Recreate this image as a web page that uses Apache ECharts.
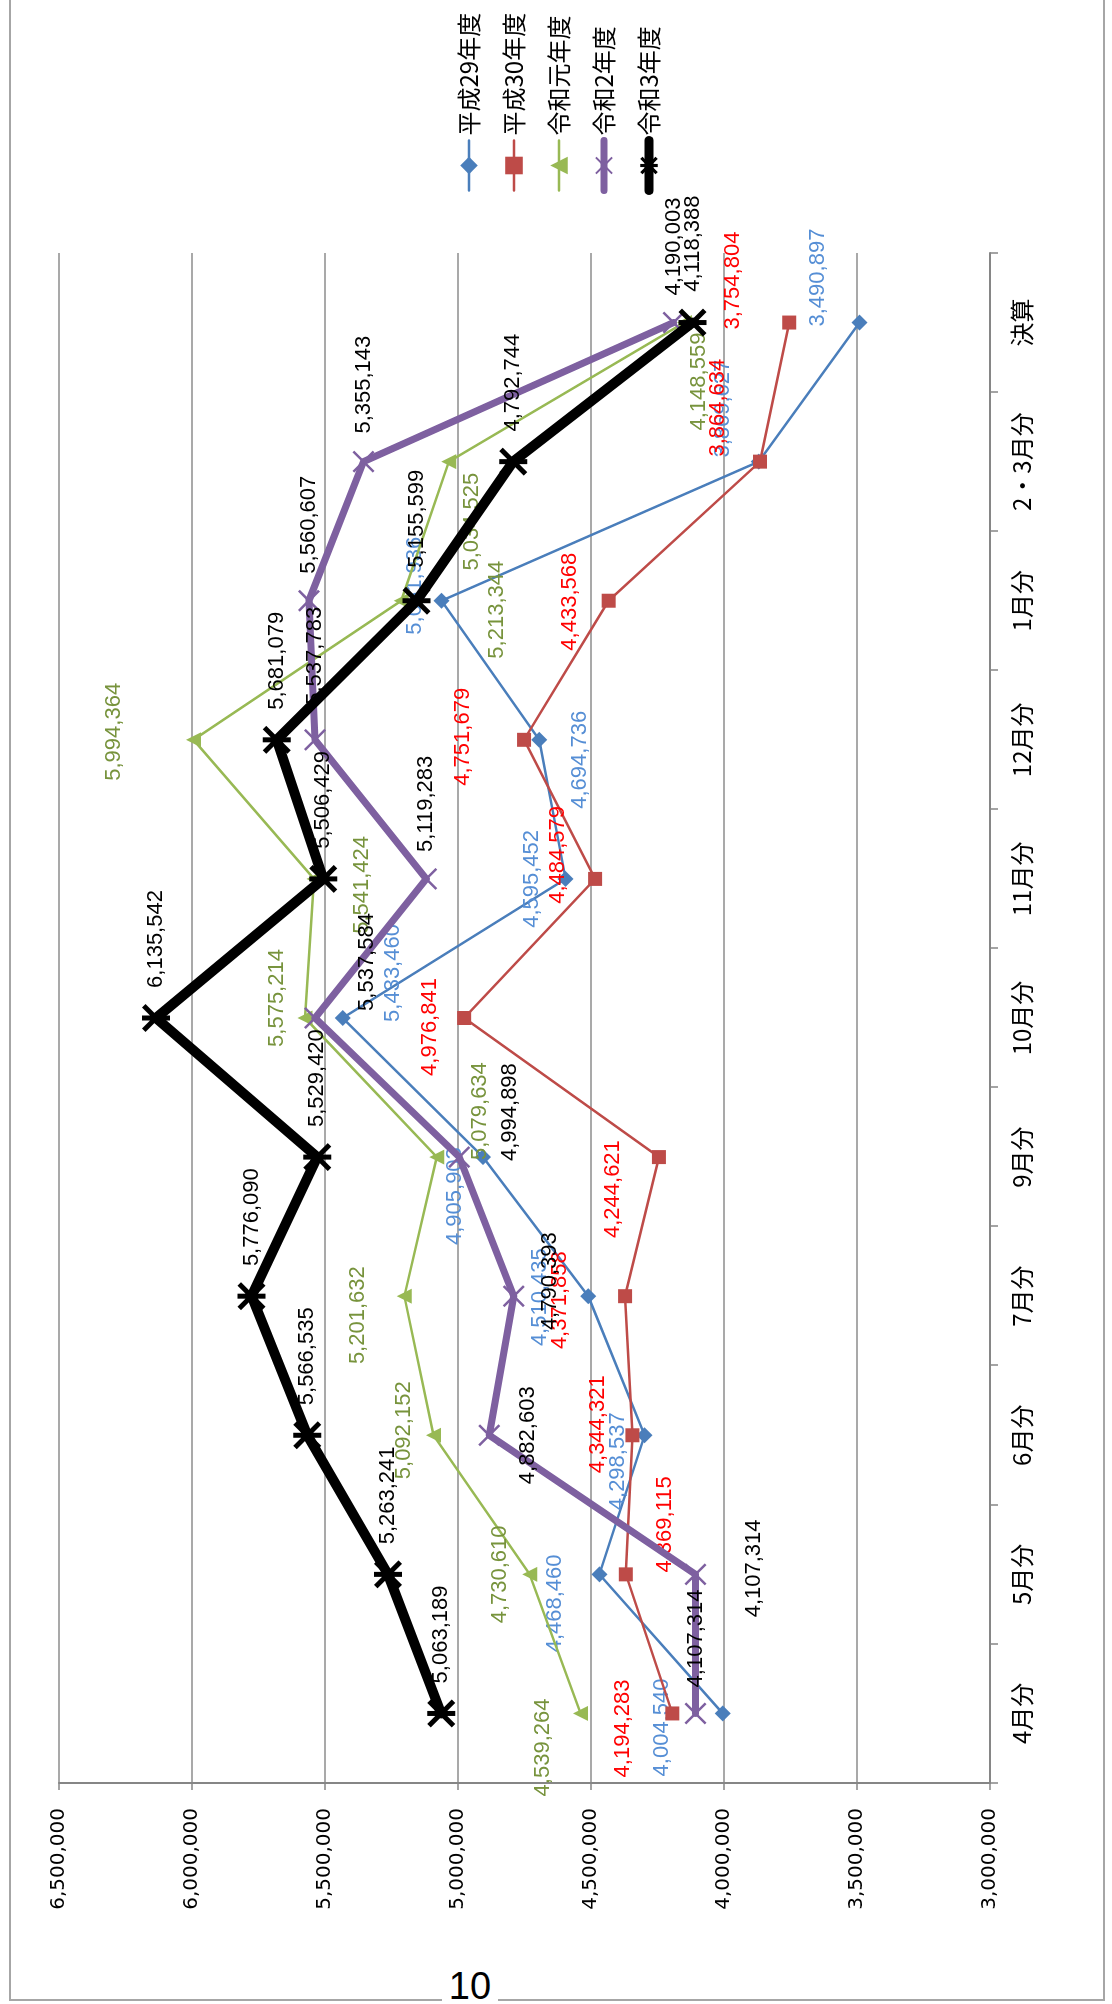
<!DOCTYPE html>
<html>
<head>
<meta charset="utf-8">
<script src="https://cdn.jsdelivr.net/npm/echarts@6/dist/echarts.min.js"></script>
<style>
  html, body { margin: 0; padding: 0; width: 1112px; height: 2004px; overflow: hidden; background: #fff; }
  /* page frame and page number (upright) */
  #frame { position: absolute; left: 9px; top: -10px; width: 1096px; height: 2011px; border: 2px solid #a6a6a6; box-sizing: border-box; }
  #pageNo { position: absolute; left: 442px; width: 56px; top: 1966px; height: 40px; background: #fff; text-align: center;
            font: 38px/40px "Liberation Sans Narrow", "Liberation Sans", sans-serif; color: #000; }
  /* the chart is drawn landscape and turned 90deg counter-clockwise */
  #chart { position: absolute; left: 0; top: 0; width: 2004px; height: 1112px;
           transform-origin: 0 0; transform: translate(0px, 2004px) rotate(-90deg); }
</style>
</head>
<body>
<div id="frame"></div>
<div id="pageNo">10</div>
<div id="chart"></div>
<script>
// 区分
const categories = ['4月分', '5月分', '6月分', '7月分', '9月分', '10月分', '11月分', '12月分', '1月分', '2・3月分', '決算'];

// 縦軸
const axisMin = 3000000;
const axisMax = 6500000;
const axisStep = 500000;

// 各年度の値
const seriesNames = ['平成29年度', '平成30年度', '令和元年度', '令和2年度', '令和3年度'];
const h29 = [4004540, 4468460, 4298537, 4510435, 4905903, 5433460, 4595452, 4694736, 5061936, 3869627, 3490897];
const h30 = [4194283, 4369115, 4344321, 4371858, 4244621, 4976841, 4484579, 4751679, 4433568, 3864634, 3754804];
const r1 = [4539264, 4730610, 5092152, 5201632, 5079634, 5575214, 5541424, 5994364, 5213344, 5034525, 4148559];
const r2 = [4107314, 4107314, 4882603, 4790393, 4994898, 5537584, 5119283, 5537783, 5560607, 5355143, 4190003];
const r3 = [5063189, 5263241, 5566535, 5776090, 5529420, 6135542, 5506429, 5681079, 5155599, 4792744, 4118388];

// ラベルのずらし量 (点からの相対位置 px)
const nudgeH29 = [[-14, -61], [-29, -44], [-26, -27], [-1, -48], [-39, -28], [45, 50], [0, -34], [-20, 41], [15, -27], [53, -36], [45, -41]];
const nudgeH30 = [[-15, -49], [50, 39], [11, -34], [-4, -65], [-32, -46], [-9, -34], [24, -37], [3, -61], [-1, -39], [54, -42], [42, -56]];
const nudgeR1 = [[-34, -38], [0, -30], [5, -30], [-19, -46], [46, 43], [20, -28], [-6, 48], [8, -80], [-9, 96], [-60, 23], [-59, 14]];
const nudgeR2 = [[75, 0], [6, 58], [0, 39], [15, 36], [45, 51], [56, 52], [75, 0], [84, 0], [76, 0], [77, 0], [76, 0]];
const nudgeR3 = [[79, 0], [79, 0], [79, 0], [79, 0], [79, 0], [79, 0], [79, 0], [79, 0], [82, 0], [79, 0], [79, 0]];

function fmt(v) {
    return String(v).replace(/\B(?=(\d{3})+(?!\d))/g, ',');
}

// マーカー: ×印と＊印
const crossPath = 'path://M0,1.6L1.6,0L10,8.4L18.4,0L20,1.6L11.6,10L20,18.4L18.4,20L10,11.6L1.6,20L0,18.4L8.4,10Z';
const starPath = 'path://M0,3.5L3.5,0L28,24.5L24.5,28Z M24.5,0L28,3.5L3.5,28L0,24.5Z M11.5,0L16.5,0L16.5,28L11.5,28Z';

const styles = [
    { z: 2, symbol: 'diamond', size: 16, color: '#4a7ebb', width: 2.5, labelColor: '#558ed5' },
    { z: 3, symbol: 'rect', size: 14, color: '#be4b48', width: 2.5, labelColor: '#ff0000' },
    { z: 4, symbol: 'triangle', size: 15, color: '#98b954', width: 2.5, labelColor: '#77933c' },
    { z: 5, symbol: crossPath, size: 22, color: '#7e60a0', width: 7, labelColor: '#000' },
    { z: 6, symbol: starPath, size: 28, color: '#000', width: 10, labelColor: '#000' },
];

function lineSeries(name, values, nudge, s) {
    return {
        name: name,
        type: 'line',
        z: s.z,
        symbol: s.symbol,
        symbolSize: s.size,
        showAllSymbol: true,
        lineStyle: { color: s.color, width: s.width, join: 'round', cap: 'round' },
        itemStyle: { color: s.color },
        label: {
            show: true,
            position: 'inside',
            align: 'center',
            verticalAlign: 'middle',
            color: s.labelColor,
            fontSize: 22,
            fontFamily: 'Liberation Sans',
            formatter: function (p) { return fmt(p.value); },
        },
        emphasis: { disabled: true },
        data: values.map(function (v, i) {
            return { value: v, label: { offset: nudge[i] } };
        }),
    };
}

const option = {
    animation: false,
    backgroundColor: 'transparent',
    grid: { left: 221, right: 253, top: 59, bottom: 122, containLabel: false, outerBoundsMode: 'none' },
    legend: {
        orient: 'vertical',
        left: 1804,
        top: 452,
        itemWidth: 50,
        itemHeight: 22,
        itemGap: 21,
        data: seriesNames.map(function (n, i) {
            return { name: n, lineStyle: { width: [2.5, 2.5, 2.5, 7, 9][i], cap: 'round' } };
        }),
        textStyle: { color: '#000', fontSize: 24, fontFamily: 'Noto Sans CJK JP' },
    },
    xAxis: {
        type: 'category',
        data: categories,
        boundaryGap: true,
        axisLine: { show: true, lineStyle: { color: '#868686', width: 2 } },
        axisTick: { show: true, alignWithLabel: false, length: 8, lineStyle: { color: '#868686', width: 1.5 } },
        axisLabel: { interval: 0, margin: 20, color: '#000', fontSize: 24, fontFamily: 'Noto Sans CJK JP' },
        splitLine: { show: false },
    },
    yAxis: {
        type: 'value',
        min: axisMin,
        max: axisMax,
        interval: axisStep,
        axisLine: { show: true, lineStyle: { color: '#868686', width: 2 } },
        axisTick: { show: true, length: 7, lineStyle: { color: '#868686', width: 1.5 } },
        axisLabel: {
            margin: 25, color: '#000', fontSize: 20, fontFamily: 'DejaVu Sans',
            showMinLabel: true, showMaxLabel: true,
            formatter: function (v) { return fmt(v); },
        },
        splitLine: { show: true, lineStyle: { color: '#8c8c8c', width: 1.5 } },
    },
    series: [
        lineSeries(seriesNames[0], h29, nudgeH29, styles[0]),
        lineSeries(seriesNames[1], h30, nudgeH30, styles[1]),
        lineSeries(seriesNames[2], r1, nudgeR1, styles[2]),
        lineSeries(seriesNames[3], r2, nudgeR2, styles[3]),
        lineSeries(seriesNames[4], r3, nudgeR3, styles[4]),
    ],
};

const myChart = echarts.init(document.getElementById('chart'), null, { renderer: 'canvas', devicePixelRatio: 1 });
myChart.setOption(option);
</script>
</body>
</html>
